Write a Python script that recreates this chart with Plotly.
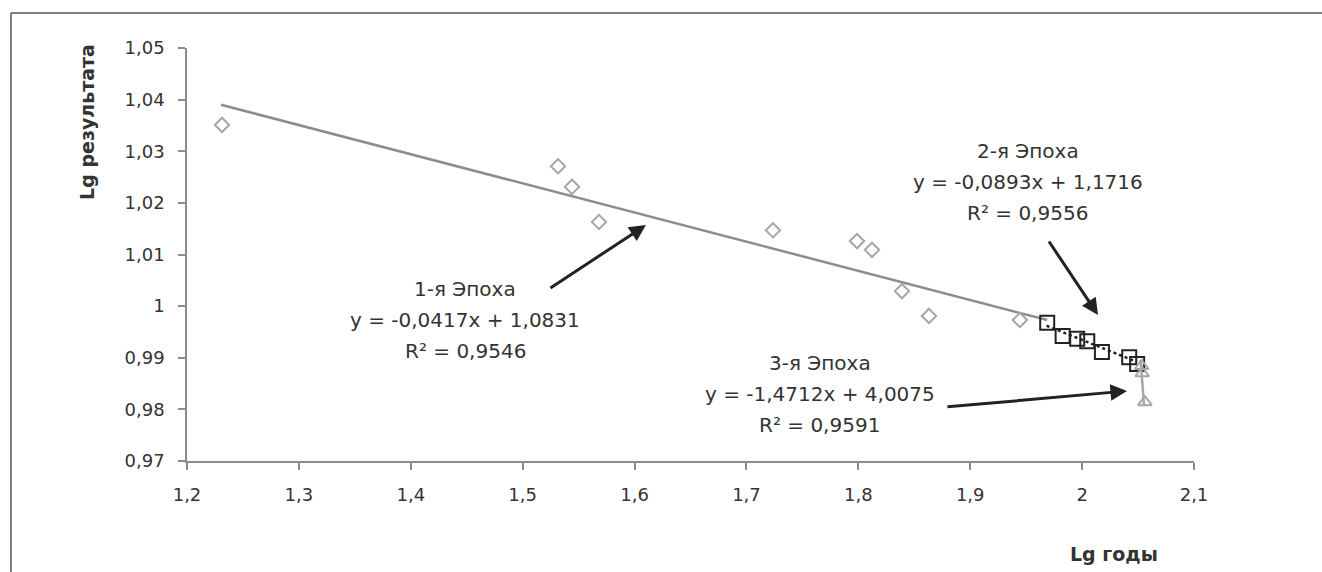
import plotly.graph_objects as go

# Epoch 1 (diamonds)
ep1_x = [1.2313, 1.5316, 1.5441, 1.5682, 1.7237, 1.7988, 1.8122, 1.8390, 1.8631, 1.9444]
ep1_y = [1.0351, 1.0271, 1.0231, 1.0163, 1.0147, 1.0126, 1.0109, 1.0029, 0.9981, 0.9973]
# Epoch 2 (squares)
ep2_x = [1.9688, 1.9826, 1.9956, 2.0046, 2.0177, 2.0421, 2.0492]
ep2_y = [0.9968, 0.9942, 0.9937, 0.9932, 0.9911, 0.9901, 0.9888]
# Epoch 3 (triangles)
ep3_x = [2.0532, 2.0537, 2.0561]
ep3_y = [0.9884, 0.9870, 0.9814]

# Trend lines (as drawn)
tr1_x = [1.2304, 1.9688]
tr1_y = [1.0390, 0.9973]
tr2_x = [1.9683, 2.0490]
tr2_y = [0.9962, 0.9892]
tr3_x = [2.0523, 2.0553]
tr3_y = [0.9896, 0.9808]

x_ticks = [1.2, 1.3, 1.4, 1.5, 1.6, 1.7, 1.8, 1.9, 2.0, 2.1]
x_ticktext = ["1,2", "1,3", "1,4", "1,5", "1,6", "1,7", "1,8", "1,9", "2", "2,1"]
y_ticks = [0.97, 0.98, 0.99, 1.0, 1.01, 1.02, 1.03, 1.04, 1.05]
y_ticktext = ["0,97", "0,98", "0,99", "1", "1,01", "1,02", "1,03", "1,04", "1,05"]

label1 = ["1-я Эпоха", "y = -0,0417x + 1,0831", "R² = 0,9546"]
label2 = ["2-я Эпоха", "y = -0,0893x + 1,1716", "R² = 0,9556"]
label3 = ["3-я Эпоха", "y = -1,4712x + 4,0075", "R² = 0,9591"]

FONT = "DejaVu Sans"
TXT = "#333333"
AX = "#8c8c8c"

fig = go.Figure()
fig.add_trace(go.Scatter(x=tr1_x, y=tr1_y, mode="lines",
                         line=dict(color="#8c8c8c", width=2.5), hoverinfo="skip"))
fig.add_trace(go.Scatter(x=ep1_x, y=ep1_y, mode="markers",
                         marker=dict(symbol="diamond-open", size=11, color="#a6a6a6",
                                     line=dict(width=2, color="#a6a6a6"))))
fig.add_trace(go.Scatter(x=ep2_x, y=ep2_y, mode="markers",
                         marker=dict(symbol="square-open", size=14, color="#222222",
                                     line=dict(width=2, color="#222222"))))
fig.add_trace(go.Scatter(x=tr2_x, y=tr2_y, mode="lines",
                         line=dict(color="#222222", width=2.5, dash="dot"), hoverinfo="skip"))
fig.add_trace(go.Scatter(x=tr3_x, y=tr3_y, mode="lines",
                         line=dict(color="#a6a6a6", width=2.5), hoverinfo="skip"))
fig.add_trace(go.Scatter(x=ep3_x, y=ep3_y, mode="markers",
                         marker=dict(symbol="triangle-up-open", size=12, color="#a6a6a6",
                                     line=dict(width=2, color="#a6a6a6"))))

annos = []
text_pos = [(1.4485, 0.9973), (1.9516, 1.0240), (1.7657, 0.9830)]
for (tx, ty), lab in zip(text_pos, [label1, label2, label3]):
    for i, line in enumerate(lab):
        annos.append(dict(x=tx, y=ty, xref="x", yref="y", text=line, showarrow=False,
                          xanchor="center", yanchor="middle", yshift=(1 - i) * 31,
                          font=dict(family=FONT, size=20, color=TXT)))
arrows = [((1.5235, 1.00332), (1.6102, 1.01571)),
          ((1.9695, 1.01281), (2.0142, 0.99828)),
          ((1.8783, 0.98046), (2.0401, 0.98356))]
for (tx, ty), (hx, hy) in arrows:
    annos.append(dict(x=hx, y=hy, ax=tx, ay=ty, xref="x", yref="y", axref="x", ayref="y",
                      text="", showarrow=True, arrowhead=2, arrowsize=1.1, arrowwidth=3,
                      arrowcolor="#222222"))
annos.append(dict(x=-0.0993, y=0.821, xref="paper", yref="paper", text="<b>Lg результата</b>",
                  textangle=-90, showarrow=False, xanchor="center", yanchor="middle",
                  font=dict(family=FONT, size=19, color=TXT)))
annos.append(dict(x=0.9206, y=-0.225, xref="paper", yref="paper", text="<b>Lg годы</b>",
                  showarrow=False, xanchor="center", yanchor="middle",
                  font=dict(family=FONT, size=19, color=TXT)))

BX, BY = -0.1748, 1.0847
fig.update_layout(
    width=1322, height=572,
    margin=dict(l=187, r=128, t=48, b=111),
    paper_bgcolor="white", plot_bgcolor="white",
    showlegend=False,
    annotations=annos,
    shapes=[dict(type="line", xref="paper", yref="paper", x0=BX, x1=1.3, y0=BY, y1=BY,
                 line=dict(color="#555555", width=1.5)),
            dict(type="line", xref="paper", yref="paper", x0=BX, x1=BX, y0=-0.5, y1=BY,
                 line=dict(color="#555555", width=1.5))],
    xaxis=dict(range=[1.2, 2.1], tickvals=x_ticks, ticktext=x_ticktext,
               showgrid=False, zeroline=False, showline=True, linecolor=AX, linewidth=1.5,
               ticks="outside", ticklen=7, tickcolor=AX, tickwidth=1.5, ticklabelstandoff=10,
               tickfont=dict(family=FONT, size=18, color=TXT)),
    yaxis=dict(range=[0.97, 1.05], tickvals=y_ticks, ticktext=y_ticktext,
               showgrid=False, zeroline=False, showline=True, linecolor=AX, linewidth=1.5,
               ticks="outside", ticklen=7, tickcolor=AX, tickwidth=1.5, ticklabelstandoff=10,
               tickfont=dict(family=FONT, size=18, color=TXT)),
)

fig.write_html("out.html", config={"displayModeBar": False},
               post_script="document.body.style.margin='0';document.body.style.overflow='hidden';")
